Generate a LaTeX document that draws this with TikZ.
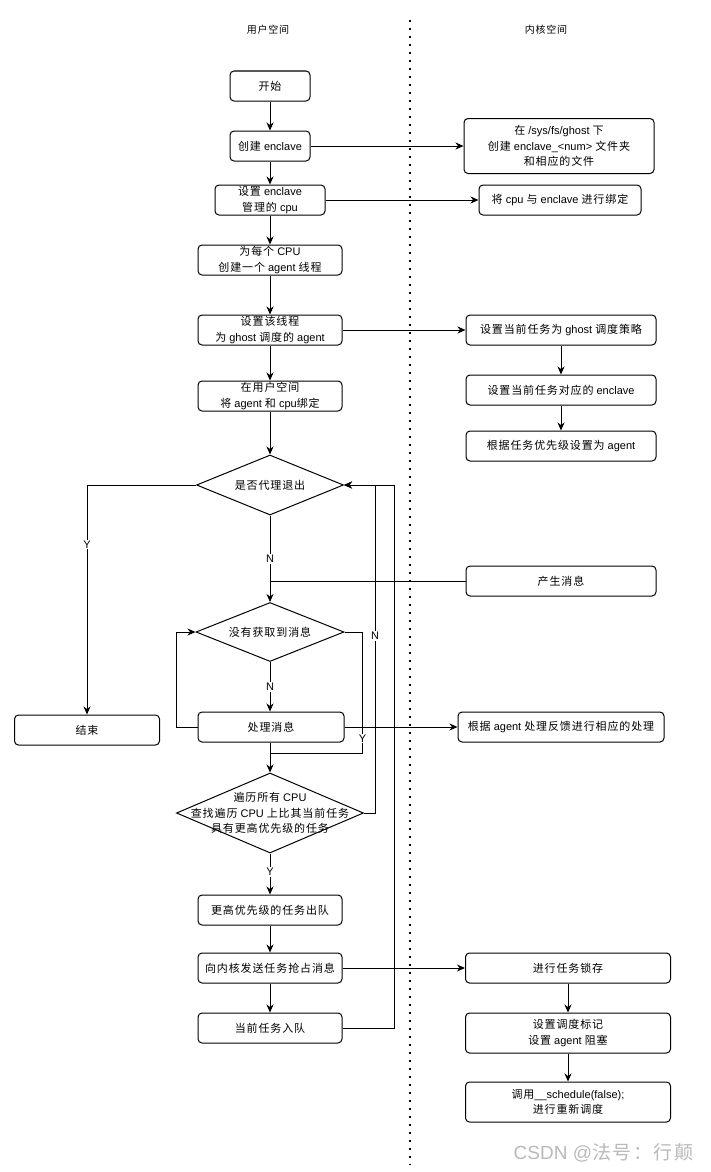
\documentclass[tikz,border=0pt]{standalone}
\usepackage{fontspec}
\setmainfont{Liberation Sans}
\newfontfamily\latinfont{Liberation Sans}
\newfontfamily\cjkfont[LetterSpace=8]{Noto Sans CJK SC}
\newcount\cjkchar
\cjkchar="4E00
\loop
    \XeTeXcharclass\cjkchar=1
    \advance\cjkchar by 1
\ifnum\cjkchar<"A000 \repeat
\cjkchar="FF00
\loop
    \XeTeXcharclass\cjkchar=1
    \advance\cjkchar by 1
\ifnum\cjkchar<"FFF0 \repeat
\XeTeXinterchartokenstate=1
\XeTeXinterchartoks 0 1 = {\cjkfont}
\XeTeXinterchartoks 4095 1 = {\cjkfont}
\XeTeXinterchartoks 1 0 = {\latinfont}
\XeTeXinterchartoks 1 4095 = {\latinfont}
\usetikzlibrary{shapes.geometric,arrows.meta}
\tikzset{
    proc/.style={draw, rounded corners=4pt, minimum height=30pt, align=center, inner sep=1pt, font=\fontsize{11}{15.5}\selectfont},
    decision/.style={draw, diamond, inner sep=0pt},
    dtext/.style={font=\fontsize{11}{15.5}\selectfont, align=center},
    lbl/.style={fill=white, inner sep=1pt, font=\fontsize{11}{13}\selectfont},
    flow/.style={-{Stealth[length=8pt,width=7pt,inset=2.5pt]}},
    sep/.style={line width=2pt, dash pattern=on 2pt off 6pt},
}
\begin{document}
\begin{tikzpicture}[x=1pt, y=-1pt, line width=1pt]
    \useasboundingbox (0,0) rectangle (710,1172);
    \draw[sep] (410,20) -- (410,1165);
    \node[font=\fontsize{10}{12}\selectfont] (user) at (268,30) {用户空间};
    \node[font=\fontsize{10}{12}\selectfont] (kernel) at (546,30) {内核空间};
    \node[font=\fontsize{6}{7}\selectfont, text=orange] (dots) at (410,593) {::};

    \node[proc, minimum width=80pt] (start) at (270,86) {开始};
    \node[proc, minimum width=80pt] (create) at (270,146) {创建 enclave};
    \node[proc, minimum width=190pt, minimum height=55pt] (sysfs) at (559,146) {在 /sys/fs/ghost 下\\创建 enclave\_<num> 文件夹\\和相应的文件};
    \node[proc, minimum width=110pt] (setcpu) at (270,200) {设置 enclave\\管理的 cpu};
    \node[proc, minimum width=162pt] (bind) at (560,200) {将 cpu 与 enclave 进行绑定};
    \node[proc, minimum width=144pt] (percpu) at (270,260) {为每个 CPU\\创建一个 agent 线程};
    \node[proc, minimum width=144pt] (setthread) at (270,330) {设置该线程\\为 ghost 调度的 agent};
    \node[proc, minimum width=190pt] (setpolicy) at (561,330) {设置当前任务为 ghost 调度策略};
    \node[proc, minimum width=144pt] (binduser) at (270,396) {在用户空间\\将 agent 和 cpu绑定};
    \node[proc, minimum width=190pt] (setenclave) at (561,390) {设置当前任务对应的 enclave};
    \node[proc, minimum width=190pt] (setprio) at (561,446) {根据任务优先级设置为 agent};

    \node[decision, minimum width=147pt, minimum height=60pt, label={[dtext]center:是否代理退出}] (quit) at (270,485) {};
    \node[proc, minimum width=145pt] (end) at (87,730) {结束};
    \node[proc, minimum width=190pt] (gen) at (561,581) {产生消息};
    \node[decision, minimum width=148pt, minimum height=59pt, label={[dtext]center:没有获取到消息}] (nomsg) at (270,632) {};
    \node[proc, minimum width=146pt] (handle) at (271,727) {处理消息};
    \node[proc, minimum width=206pt] (feedback) at (561,727) {根据 agent 处理反馈进行相应的处理};
    \coordinate (ymerge) at (270,753);
    \node[decision, minimum width=187pt, minimum height=80pt, label={[dtext]center:遍历所有 CPU\\查找遍历 CPU 上比其当前任务\\具有更高优先级的任务}] (cpuscan) at (270,813) {};
    \node[proc, minimum width=144pt] (dequeue) at (270,910) {更高优先级的任务出队};
    \node[proc, minimum width=144pt] (send) at (270,968) {向内核发送任务抢占消息};
    \node[proc, minimum width=144pt] (enqueue) at (270,1028) {当前任务入队};
    \node[proc, minimum width=205pt] (lock) at (568,968) {进行任务锁存};
    \node[proc, minimum width=205pt, minimum height=40pt] (flag) at (568,1033) {设置调度标记\\设置 agent 阻塞};
    \node[proc, minimum width=205pt, minimum height=40pt] (sched) at (568,1102) {调用\_\_schedule(false);\\进行重新调度};

    \draw[flow] (start) -- (create);
    \draw[flow] (create) -- (setcpu);
    \draw[flow] (create) -- (sysfs);
    \draw[flow] (setcpu) -- (bind);
    \draw[flow] (setcpu) -- (percpu);
    \draw[flow] (percpu) -- (setthread);
    \draw[flow] (setthread) -- (setpolicy);
    \draw[flow] (setpolicy) -- (setenclave);
    \draw[flow] (setenclave) -- (setprio);
    \draw[flow] (setthread) -- (binduser);
    \draw[flow] (binduser) -- (quit);
    \draw[flow] (quit.west) -| node[lbl, pos=0.63] {Y} (end.north);
    \draw[flow] (quit.south) -- node[lbl] {N} (nomsg.north);
    \draw (gen.west) -- (gen.west -| nomsg.north);
    \draw[flow] (nomsg.south) -- node[lbl] {N} (nomsg.south |- handle.north);
    \draw[flow] (handle.west) -- ++(-21,0) |- (nomsg.west);
    \draw (nomsg.east) -- ++(18,0) |- node[lbl, pos=0.44] {Y} (ymerge);
    \draw[flow] (handle.south -| ymerge) -- (cpuscan.north);
    \draw[flow] (handle.east) -- (feedback.west);
    \draw[flow] (cpuscan.east) -- ++(11,0) |- node[lbl, pos=0.27] {N} (quit.east);
    \draw[flow] (cpuscan.south) -- node[lbl, pos=0.45] {Y} (dequeue.north);
    \draw[flow] (dequeue) -- (send);
    \draw[flow] (send) -- (enqueue);
    \draw[flow] (send) -- (lock);
    \draw[flow] (enqueue.east) -- ++(52,0) |- (quit.east);
    \draw[flow] (lock) -- (flag);
    \draw[flow] (flag) -- (sched);

    \node[font=\fontsize{19}{21}\selectfont, text=gray!55, anchor=east] (wm) at (697,1153) {CSDN @法号：行颠};
\end{tikzpicture}
\end{document}
